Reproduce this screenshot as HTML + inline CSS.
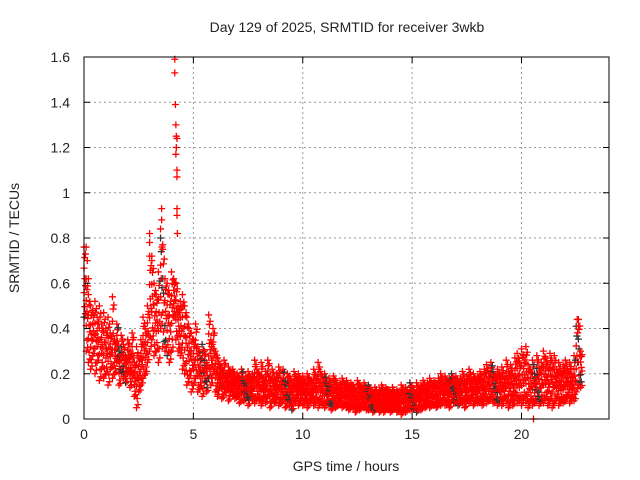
<!DOCTYPE html>
<html><head><meta charset="utf-8"><style>
body{margin:0;background:#fff}
svg{display:block;font-family:"Liberation Sans",sans-serif}
</style></head><body>
<svg id="chart" width="640" height="480" viewBox="0 0 640 480" xmlns="http://www.w3.org/2000/svg">
<rect width="640" height="480" fill="#fff"/>
<text x="347" y="32" font-size="14" text-anchor="middle" fill="#222">Day 129 of 2025, SRMTID for receiver 3wkb</text>
<text x="346" y="471" font-size="14" text-anchor="middle" fill="#222">GPS time / hours</text>
<text x="19" y="238" font-size="14" text-anchor="middle" fill="#222" transform="rotate(-90 19 238)">SRMTID / TECUs</text>
<g id="grid"></g><g id="marks"></g><g id="axes"></g>
</svg>
<script>
const xTicks=[0,5,10,15,20];
const yTicks=[0,0.2,0.4,0.6,0.8,1,1.2,1.4,1.6];
const yTickLabels=["0","0.2","0.4","0.6","0.8","1","1.2","1.4","1.6"];
const hiVals=[
0.76,0.62,0.55,0.50,0.48,0.52,0.45,0.50,0.42,0.47,
0.40,0.45,0.38,0.54,0.35,0.42,0.30,0.37,0.33,0.28,
0.35,0.30,0.38,0.25,0.32,0.28,0.35,0.45,0.40,0.50,
0.72,0.70,0.60,0.55,0.65,0.80,0.75,0.62,0.60,0.55,
0.65,0.62,0.60,0.50,0.52,0.55,0.50,0.45,0.40,0.38,
0.35,0.42,0.32,0.28,0.33,0.30,0.25,0.46,0.35,0.40,
0.30,0.27,0.24,0.22,0.26,0.20,0.23,0.21,0.22,0.19,
0.20,0.18,0.22,0.17,0.19,0.21,0.18,0.20,0.26,0.22,
0.20,0.25,0.18,0.21,0.26,0.19,0.22,0.18,0.20,0.23,
0.18,0.22,0.17,0.20,0.19,0.16,0.21,0.18,0.20,0.17,
0.19,0.16,0.20,0.18,0.17,0.22,0.19,0.25,0.21,0.18,
0.20,0.16,0.18,0.15,0.19,0.17,0.14,0.16,0.18,0.15,
0.17,0.14,0.16,0.15,0.13,0.17,0.15,0.14,0.16,0.13,
0.15,0.13,0.12,0.14,0.11,0.13,0.15,0.12,0.14,0.13,
0.12,0.14,0.11,0.13,0.12,0.15,0.13,0.14,0.12,0.16,
0.14,0.12,0.16,0.13,0.15,0.17,0.14,0.16,0.18,0.15,
0.17,0.15,0.18,0.20,0.16,0.19,0.17,0.18,0.20,0.17,
0.19,0.16,0.18,0.21,0.17,0.19,0.22,0.18,0.20,0.17,
0.19,0.21,0.18,0.22,0.24,0.20,0.25,0.21,0.19,0.22,
0.20,0.23,0.19,0.26,0.21,0.24,0.20,0.27,0.29,0.25,
0.31,0.28,0.32,0.24,0.22,0.26,0.20,0.28,0.23,0.25,
0.30,0.27,0.24,0.29,0.25,0.28,0.22,0.25,0.21,0.24,
0.26,0.22,0.25,0.20,0.28,0.41,0.44,0.30];
const loVals=[
0.45,0.30,0.25,0.22,0.28,0.20,0.25,0.17,0.22,0.18,
0.20,0.15,0.22,0.18,0.20,0.25,0.15,0.20,0.18,0.16,
0.20,0.14,0.18,0.10,0.05,0.12,0.15,0.18,0.20,0.25,
0.30,0.35,0.28,0.30,0.25,0.40,0.32,0.30,0.28,0.25,
0.30,0.45,0.35,0.30,0.28,0.22,0.20,0.15,0.18,0.12,
0.15,0.18,0.12,0.14,0.10,0.16,0.12,0.18,0.15,0.20,
0.12,0.10,0.14,0.09,0.11,0.13,0.08,0.12,0.10,0.09,
0.10,0.07,0.11,0.08,0.09,0.06,0.10,0.08,0.07,0.09,
0.08,0.06,0.09,0.07,0.10,0.05,0.08,0.07,0.09,0.06,
0.07,0.09,0.05,0.08,0.06,0.04,0.07,0.09,0.06,0.08,
0.06,0.08,0.05,0.07,0.09,0.06,0.08,0.05,0.07,0.06,
0.05,0.07,0.06,0.04,0.07,0.05,0.06,0.08,0.05,0.06,
0.05,0.04,0.06,0.05,0.03,0.05,0.04,0.06,0.05,0.04,
0.04,0.05,0.03,0.04,0.05,0.03,0.04,0.03,0.05,0.04,
0.03,0.04,0.05,0.03,0.04,0.02,0.04,0.03,0.05,0.04,
0.04,0.05,0.03,0.05,0.04,0.06,0.05,0.07,0.05,0.06,
0.06,0.05,0.07,0.06,0.08,0.06,0.07,0.05,0.08,0.07,
0.07,0.06,0.08,0.07,0.05,0.08,0.07,0.09,0.06,0.08,
0.07,0.08,0.06,0.09,0.07,0.08,0.10,0.07,0.08,0.06,
0.08,0.06,0.09,0.07,0.05,0.08,0.06,0.09,0.07,0.08,
0.06,0.09,0.07,0.05,0.08,0.06,0.07,0.09,0.06,0.08,
0.07,0.09,0.06,0.08,0.05,0.07,0.09,0.06,0.08,0.07,
0.08,0.10,0.07,0.09,0.08,0.12,0.15,0.14];
const spikeTimes=[4.15,4.15,4.18,4.2,4.22,4.25,4.22,4.2,4.25,4.25,4.25,4.25,4.27,3.55,3.55,3.6,3.0,3.0,3.1,0.1,0.15,22.55,22.6,20.55,0.2,3.5];
const spikeVals=[1.59,1.53,1.39,1.30,1.25,1.24,1.20,1.17,1.10,1.07,0.93,0.90,0.82,0.93,0.88,0.77,0.82,0.78,0.72,0.76,0.70,0.44,0.41,0.0,0.62,0.84];
const timeStep=0.1;

const X0=84,X1=609,Y0=419,Y1=57;
function xs(t){return X0+(t/24)*(X1-X0);}
function ys(v){return Y0-(v/1.6)*(Y0-Y1);}
const NS="http://www.w3.org/2000/svg";
const grid=document.getElementById('grid'),axes=document.getElementById('axes'),marks=document.getElementById('marks');
function mk(tag,attrs,parent){const e=document.createElementNS(NS,tag);for(const k in attrs)e.setAttribute(k,attrs[k]);parent.appendChild(e);return e;}
xTicks.forEach(t=>{const x=xs(t);
 if(t>0){const g=mk('line',{x1:x,x2:x,y1:Y1,y2:Y0,stroke:'#999','stroke-dasharray':'2,3'},grid);
 
 }
 mk('line',{x1:x,x2:x,y1:Y0,y2:Y0-6,stroke:'#000'},axes);
 mk('line',{x1:x,x2:x,y1:Y1,y2:Y1+6,stroke:'#000'},axes);
 const l=mk('text',{x:x,y:Y0+20,'font-size':14,'text-anchor':'middle',fill:'#222'},axes);l.textContent=t;
 
 
});
yTicks.forEach((v,i)=>{const y=ys(v);
 if(v>0&&v<1.6){const g=mk('line',{x1:X0,x2:X1,y1:y,y2:y,stroke:'#999','stroke-dasharray':'2,3'},grid);
 
 }
 mk('line',{x1:X0,x2:X0+6,y1:y,y2:y,stroke:'#000'},axes);
 mk('line',{x1:X1,x2:X1-6,y1:y,y2:y,stroke:'#000'},axes);
 const l=mk('text',{x:X0-14,y:y+5,'font-size':14,'text-anchor':'end',fill:'#222'},axes);l.textContent=yTickLabels[i];
 
 
});
const fr=mk('rect',{x:X0,y:Y1,width:X1-X0,height:Y0-Y1,fill:'none',stroke:'#000'},axes);


function plus(t,v,col){const x=xs(t),y=ys(v);
 const p=mk('path',{d:`M${x-3.5} ${y}h7M${x} ${y-3.5}v7`,stroke:col,'stroke-width':1.3,fill:'none'},marks);
 
 }
const fracs=[[0,0.35,0.7,1],[0.15,0.55,0.85],[0.05,0.45,0.9]];
hiVals.forEach((hi,i)=>{const lo=loVals[i];const t=i*timeStep;
 fracs.forEach((fs,j)=>{const tt=t+j*timeStep/3;
  fs.forEach((f,k)=>{plus(tt,lo+(hi-lo)*f,((i+j+k)%19===0)?'#333':'#f00');});});
});
spikeTimes.forEach((t,i)=>plus(t,spikeVals[i],'#f00'));
</script>
</body></html>
